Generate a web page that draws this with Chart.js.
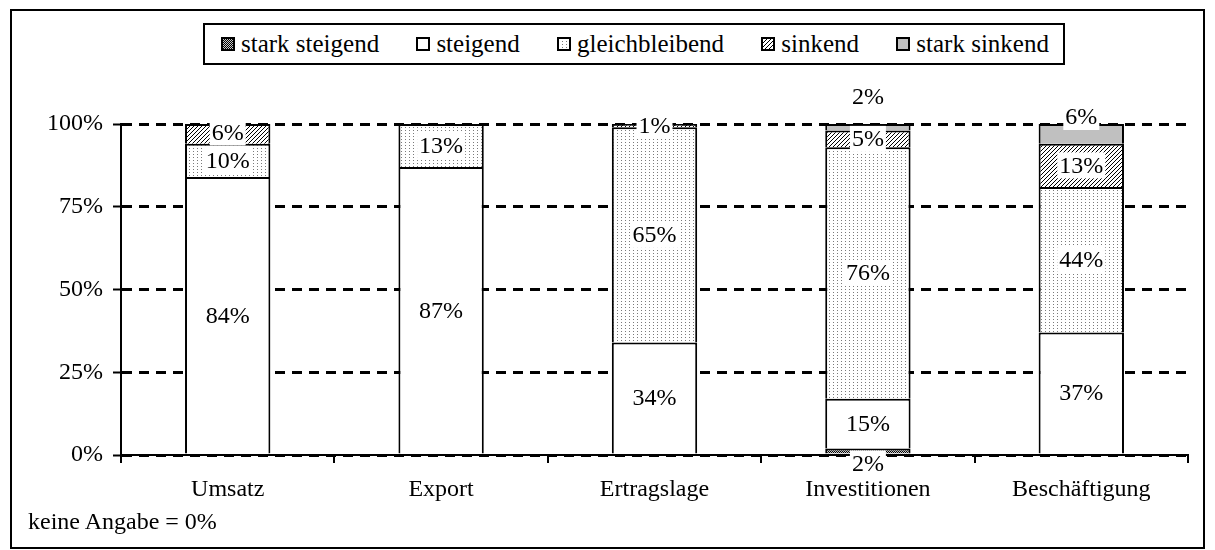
<!DOCTYPE html>
<html>
<head>
<meta charset="utf-8">
<script src="https://cdn.jsdelivr.net/npm/chart.js@4.4.1/dist/chart.umd.min.js"></script>
<style>
    body { margin: 0; background: #fff; font-family: "Liberation Serif", "Times New Roman", serif; }
    #wrap { position: relative; width: 1215px; height: 550px; overflow: hidden; }
    #chart { position: absolute; left: 0; top: 0; }
    #frame { position: absolute; left: 10px; top: 9px; width: 1195px; height: 540px; box-sizing: border-box; border: 2px solid #000; pointer-events: none; }
    #legend { position: absolute; left: 203px; top: 23px; width: 862px; height: 42px; box-sizing: border-box; border: 2px solid #000; background: #fff;
              display: flex; align-items: center; justify-content: space-between; padding: 0 14px 0 16px; font-size: 25px; }
    #legend .item { display: flex; align-items: center; white-space: nowrap; }
    #legend canvas { margin-right: 6px; }
    #note { position: absolute; left: 28px; top: 507px; font-size: 24px; line-height: 28px; }
</style>
</head>
<body>
<div id="wrap">
    <canvas id="chart" width="1215" height="550"></canvas>
    <div id="legend"></div>
    <div id="note">keine Angabe = 0%</div>
    <div id="frame"></div>
</div>
<script>
// Daten
const kategorien = ['Umsatz', 'Export', 'Ertragslage', 'Investitionen', 'Beschäftigung'];
const starkSteigend = [0, 0, 0, 2, 0];
const steigend = [84, 87, 34, 15, 37];
const gleichbleibend = [10, 13, 65, 76, 44];
const sinkend = [6, 0, 1, 5, 13];
const starkSinkend = [0, 0, 0, 2, 6];
const serienNamen = ['stark steigend', 'steigend', 'gleichbleibend', 'sinkend', 'stark sinkend'];
const yTicks = [0, 25, 50, 75, 100];

const FONT = '"Liberation Serif", "Times New Roman", serif';

// Muster fuer die Fuellungen
function makeTile(kind) {
    const c = document.createElement('canvas');
    const g = c.getContext('2d');
    if (kind === 'check') {
        c.width = 2; c.height = 2;
        g.fillStyle = '#000'; g.fillRect(0, 0, 2, 2);
        g.fillStyle = '#c8c8c8'; g.fillRect(0, 0, 1, 1); g.fillRect(1, 1, 1, 1);
    } else if (kind === 'dots') {
        c.width = 4; c.height = 3;
        g.fillStyle = '#fff'; g.fillRect(0, 0, 4, 3);
        g.fillStyle = '#7a7a7a'; g.fillRect(1, 1, 1, 1);
    } else if (kind === 'hatch') {
        c.width = 4; c.height = 4;
        g.fillStyle = '#fff'; g.fillRect(0, 0, 4, 4);
        g.fillStyle = '#000';
        g.fillRect(0, 3, 1, 1); g.fillRect(1, 2, 1, 1); g.fillRect(2, 1, 1, 1); g.fillRect(3, 0, 1, 1);
    }
    return c;
}

const ctxMain = document.getElementById('chart').getContext('2d');
function fillFor(kind) {
    if (kind === 'white') return '#ffffff';
    if (kind === 'gray') return '#c0c0c0';
    return ctxMain.createPattern(makeTile(kind), 'repeat');
}
const fillKinds = ['check', 'white', 'dots', 'hatch', 'gray'];
const werte = [starkSteigend, steigend, gleichbleibend, sinkend, starkSinkend];

// Legende (HTML)
const legendEl = document.getElementById('legend');
serienNamen.forEach((name, i) => {
    const item = document.createElement('div');
    item.className = 'item';
    const sw = document.createElement('canvas');
    sw.width = 14; sw.height = 14;
    const g = sw.getContext('2d');
    const k = fillKinds[i];
    g.fillStyle = k === 'white' ? '#fff' : k === 'gray' ? '#c0c0c0' : g.createPattern(makeTile(k), 'repeat');
    g.fillRect(0, 0, 14, 14);
    g.lineWidth = 2; g.strokeStyle = '#000';
    g.strokeRect(1, 1, 12, 12);
    item.appendChild(sw);
    const t = document.createElement('span');
    t.textContent = name;
    item.appendChild(t);
    legendEl.appendChild(item);
});

// Beschriftung der Segmente
const segmentLabels = {
    id: 'segmentLabels',
    afterDatasetsDraw(chart) {
        const ctx = chart.ctx;
        ctx.save();
        ctx.font = '24px ' + FONT;
        ctx.textAlign = 'center';
        ctx.textBaseline = 'middle';
        const H = 26;
        for (let i = 0; i < chart.data.labels.length; i++) {
            const items = [];
            chart.data.datasets.forEach((ds, d) => {
                const v = ds.data[i];
                if (!v) return;
                const el = chart.getDatasetMeta(d).data[i];
                items.push({ d: d, v: v, x: el.x, top: el.y, bottom: el.base });
            });
            let last = null;
            items.forEach((it, k) => {
                let c = (it.top + it.bottom) / 2;
                const h = it.bottom - it.top;
                // kleine Segmente unten: Beschriftung unter die Achse
                if (k === 0 && h < 12) c = it.bottom + 10;
                // oberste Serie: Beschriftung ueber den Balken
                if (it.d === 4) c = h < 10 ? it.top - 27 : it.top - 7;
                if (last !== null && c > last - 28) c = last - 28;
                last = c;
                const txt = it.v + '%';
                const w = ctx.measureText(txt).width + 4;
                ctx.fillStyle = '#fff';
                ctx.fillRect(it.x - w / 2, c - H / 2, w, H);
                ctx.fillStyle = '#000';
                ctx.fillText(txt, it.x, c + 1);
            });
        }
        ctx.restore();
    }
};

const datasets = serienNamen.map((name, i) => ({
    label: name,
    data: werte[i],
    backgroundColor: fillFor(fillKinds[i]),
    borderColor: '#000',
    borderWidth: { top: 2, left: 2, right: 2, bottom: 0 },
    borderSkipped: false,
    barPercentage: 0.4,
    categoryPercentage: 1.0
}));

new Chart(ctxMain, {
    type: 'bar',
    data: { labels: kategorien, datasets: datasets },
    options: {
        responsive: false,
        animation: false,
        layout: { padding: { top: 124, right: 27, bottom: 0, left: 0 } },
        plugins: { legend: { display: false }, tooltip: { enabled: false } },
        scales: {
            x: {
                stacked: true,
                grid: { offset: true, drawOnChartArea: false, color: '#000', lineWidth: 2, tickLength: 8 },
                border: { color: '#000', width: 2 },
                ticks: { color: '#000', font: { family: FONT, size: 24 }, padding: 12, maxRotation: 0 },
                afterFit(s) { s.height = 95; }
            },
            y: {
                stacked: true,
                min: 0,
                max: 100,
                afterBuildTicks(s) { s.ticks = yTicks.map(v => ({ value: v })); },
                ticks: { color: '#000', font: { family: FONT, size: 24 }, padding: 10, callback: v => v + '%' },
                grid: { color: '#000', lineWidth: 3, tickLength: 8, tickWidth: 2, tickColor: '#000', tickBorderDash: [] },
                border: { color: '#000', width: 2, dash: [10, 7] },
                afterFit(s) { s.width = 121; }
            }
        }
    },
    plugins: [segmentLabels]
});
</script>
</body>
</html>
